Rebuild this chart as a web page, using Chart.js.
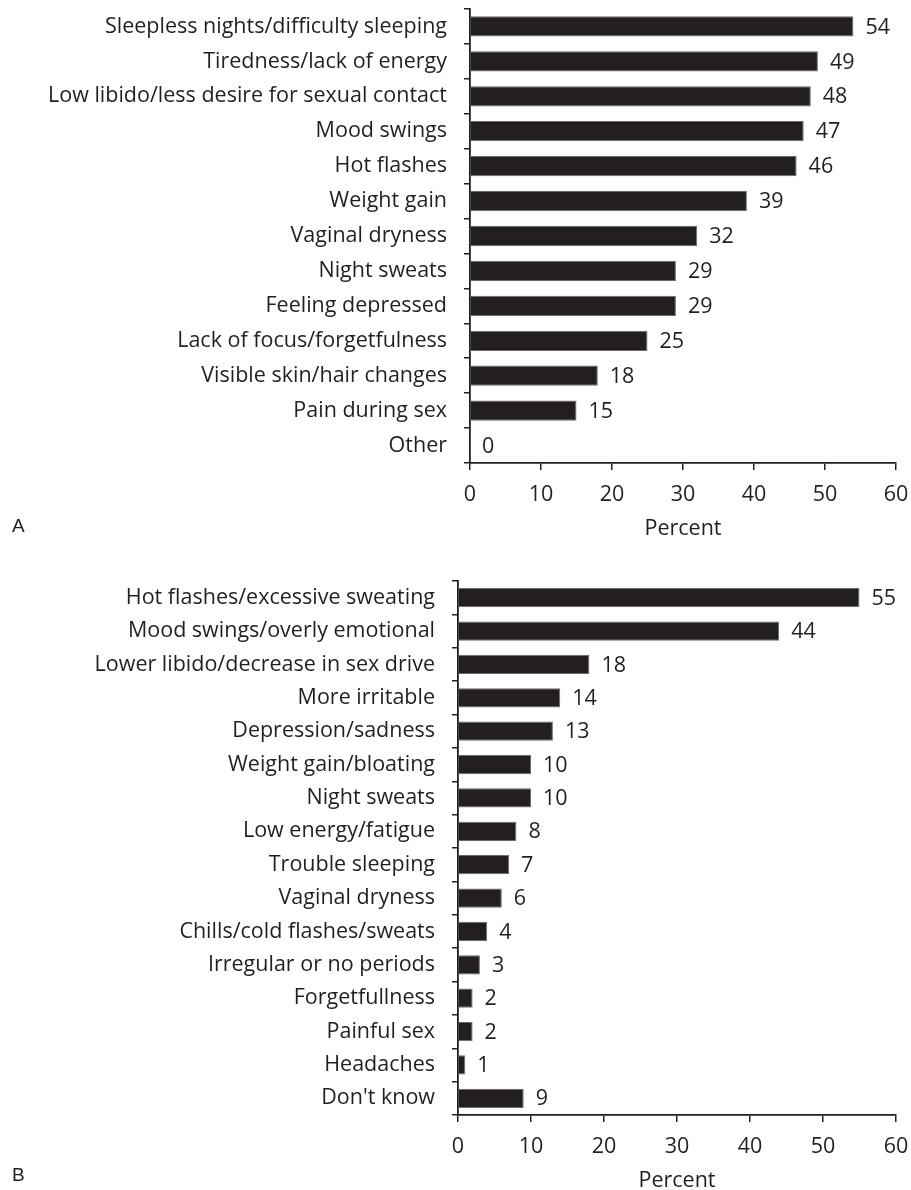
<!DOCTYPE html>
<html>
<head>
<meta charset="utf-8">
<script src="https://cdn.jsdelivr.net/npm/chart.js@4.4.1/dist/chart.umd.min.js"></script>
<style>
  html, body { margin: 0; padding: 0; background: #fff; }
  body { width: 911px; height: 1190px; position: relative; overflow: hidden; color: #231f20; }
  .box { position: absolute; left: 0; width: 911px; }
  .tag { position: absolute; left: 12px; font-size: 19px; line-height: 1; font-family: "Liberation Sans", Arial, sans-serif; color: #231f20; }
</style>
</head>
<body>
<div class="box" id="boxA" style="top:0; height:538px;"><canvas id="chartA"></canvas></div>
<div class="box" id="boxB" style="top:555px; height:635px;"><canvas id="chartB"></canvas></div>
<div class="tag" style="top:516px;">A</div>
<div class="tag" style="top:1165px;">B</div>
<script>
const categoriesA = [
  "Sleepless nights/difficulty sleeping",
  "Tiredness/lack of energy",
  "Low libido/less desire for sexual contact",
  "Mood swings",
  "Hot flashes",
  "Weight gain",
  "Vaginal dryness",
  "Night sweats",
  "Feeling depressed",
  "Lack of focus/forgetfulness",
  "Visible skin/hair changes",
  "Pain during sex",
  "Other"
];
const valuesA = [54, 49, 48, 47, 46, 39, 32, 29, 29, 25, 18, 15, 0];

const categoriesB = [
  "Hot flashes/excessive sweating",
  "Mood swings/overly emotional",
  "Lower libido/decrease in sex drive",
  "More irritable",
  "Depression/sadness",
  "Weight gain/bloating",
  "Night sweats",
  "Low energy/fatigue",
  "Trouble sleeping",
  "Vaginal dryness",
  "Chills/cold flashes/sweats",
  "Irregular or no periods",
  "Forgetfullness",
  "Painful sex",
  "Headaches",
  "Don't know"
];
const valuesB = [55, 44, 18, 14, 13, 10, 10, 8, 7, 6, 4, 3, 2, 2, 1, 9];

const xTicks = [0, 10, 20, 30, 40, 50, 60];
const axisTitle = "Percent";

const INK = '#231f20';
const FONT = '"Open Sans"';
const FS = 21.5;

const valueLabels = {
  id: 'valueLabels',
  afterDatasetsDraw(chart) {
    const ctx = chart.ctx;
    const meta = chart.getDatasetMeta(0);
    const data = chart.data.datasets[0].data;
    ctx.save();
    ctx.fillStyle = INK;
    ctx.font = FS + 'px ' + FONT;
    ctx.textAlign = 'left';
    ctx.textBaseline = 'middle';
    meta.data.forEach((bar, i) => {
      ctx.fillText(String(data[i]), bar.x + 12, bar.y + 1);
    });
    ctx.restore();
  }
};

function makeChart(id, labels, values, leftWidth, topPad) {
  return new Chart(document.getElementById(id), {
    type: 'bar',
    data: {
      labels: labels,
      datasets: [{
        data: values,
        backgroundColor: INK,
        borderColor: '#6d6a6b',
        borderWidth: 1,
        borderSkipped: 'left',
        barPercentage: 0.58,
        categoryPercentage: 1
      }]
    },
    options: {
      indexAxis: 'y',
      responsive: true,
      maintainAspectRatio: false,
      animation: false,
      layout: { padding: { left: 0, right: 15, top: topPad, bottom: 0 } },
      plugins: { legend: { display: false }, tooltip: { enabled: false } },
      scales: {
        x: {
          min: 0, max: 60,
          afterBuildTicks(scale) { scale.ticks = xTicks.map(v => ({ value: v })); },
          afterFit(scale) { scale.height = 75; scale.paddingRight = 15; scale.paddingLeft = 0; },
          ticks: { color: INK, font: { family: FONT, size: FS }, padding: 12 },
          grid: { drawOnChartArea: false, tickLength: 7, color: INK, lineWidth: 1.5 },
          border: { display: true, color: INK, width: 1.8 },
          title: { display: true, text: axisTitle, color: INK, font: { family: FONT, size: FS }, padding: { top: 0, bottom: -4 } }
        },
        y: {
          afterFit(scale) { scale.width = leftWidth; scale.paddingTop = 0; scale.paddingBottom = 0; },
          ticks: { color: INK, font: { family: FONT, size: FS }, padding: 17, autoSkip: false },
          grid: { drawOnChartArea: false, tickLength: 6, color: INK, lineWidth: 1.5, offset: true },
          border: { display: true, color: INK, width: 1.8 }
        }
      }
    },
    plugins: [valueLabels]
  });
}

const chartA = makeChart('chartA', categoriesA, valuesA, 470, 9);
const chartB = makeChart('chartB', categoriesB, valuesB, 458, 26);
</script>
</body>
</html>
